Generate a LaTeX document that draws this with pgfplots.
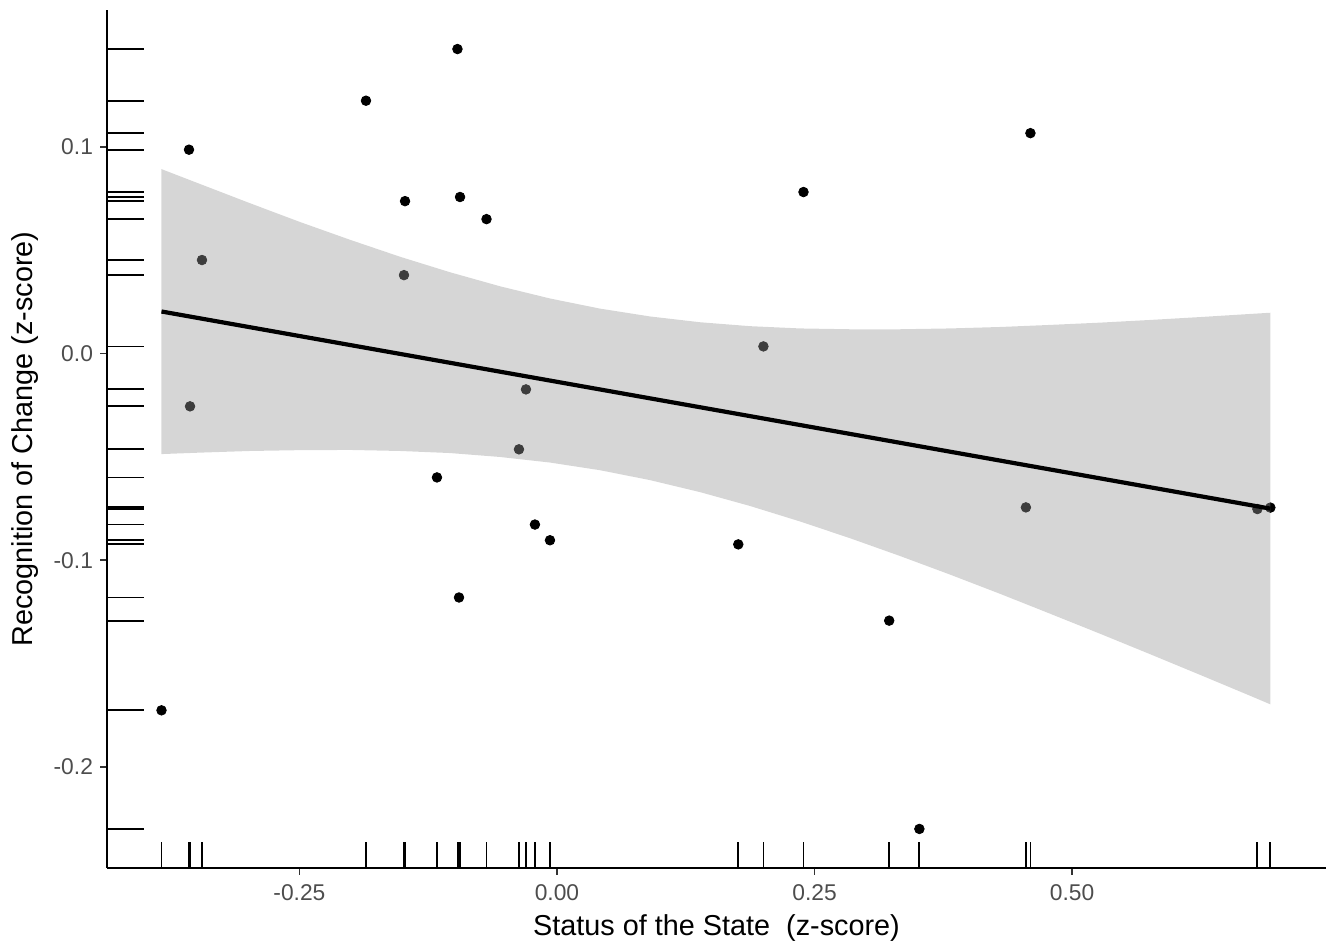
\documentclass[border=0pt]{standalone}
\usepackage{fontspec}
\setmainfont{Liberation Sans}
\usepackage{pgfplots}
\pgfplotsset{compat=1.18}
\usepackage{pgfplotstable}
\definecolor{grey60}{RGB}{153,153,153}
\definecolor{grey30}{RGB}{77,77,77}
\definecolor{grey20}{RGB}{51,51,51}
\pgfdeclareplotmark{rugx}{\pgfpathmoveto{\pgfpointorigin}\pgfpathlineto{\pgfpoint{0pt}{12.87pt}}\pgfusepathqstroke}
\pgfdeclareplotmark{rugy}{\pgfpathmoveto{\pgfpointorigin}\pgfpathlineto{\pgfpoint{18.29pt}{0pt}}\pgfusepathqstroke}

\pgfplotstableread{
x y
-0.3839 -0.1726
-0.3572 0.0987
-0.3446 0.0453
-0.3562 -0.0255
-0.1854 0.1224
-0.1475 0.0738
-0.1485 0.0380
-0.0966 0.1474
-0.0941 0.0758
-0.0684 0.0651
-0.1165 -0.0599
-0.0951 -0.1180
-0.0301 -0.0173
-0.0369 -0.0463
-0.0214 -0.0827
-0.0068 -0.0903
0.2004 0.0035
0.2393 0.0782
0.1760 -0.0923
0.3225 -0.1292
0.3518 -0.2300
0.4596 0.1067
0.4552 -0.0744
0.6799 -0.0752
0.6925 -0.0745
}\pts

\pgfplotstableread{
x y
-0.3839 0.0893
-0.3465 0.0821
-0.2980 0.0728
-0.2494 0.0637
-0.2009 0.0551
-0.1524 0.0469
-0.1039 0.0394
-0.0553 0.0326
-0.0068 0.0267
0.0417 0.0218
0.0903 0.0180
0.1388 0.0152
0.1873 0.0133
0.2359 0.0122
0.2844 0.0118
0.3329 0.0118
0.3815 0.0122
0.4300 0.0129
0.4785 0.0139
0.5270 0.0150
0.5756 0.0163
0.6241 0.0177
0.6726 0.0192
0.6925 0.0198
0.6925 -0.1697
0.6726 -0.1655
0.6241 -0.1554
0.5756 -0.1454
0.5270 -0.1355
0.4785 -0.1258
0.4300 -0.1162
0.3815 -0.1069
0.3329 -0.0979
0.2844 -0.0893
0.2359 -0.0812
0.1873 -0.0737
0.1388 -0.0670
0.0903 -0.0612
0.0417 -0.0564
-0.0068 -0.0527
-0.0553 -0.0500
-0.1039 -0.0481
-0.1524 -0.0471
-0.2009 -0.0466
-0.2494 -0.0467
-0.2980 -0.0471
-0.3465 -0.0479
-0.3839 -0.0486
}\band

\pgfplotstableread{
x y
-0.3839 0.0204
0.6925 -0.0750
}\fit

\begin{document}
\begin{tikzpicture}
\useasboundingbox (0,0) rectangle (664pt,473.5pt);
\begin{axis}[
  at={(53.5pt,39.5pt)}, anchor=south west,
  scale only axis, width=609.5pt, height=429pt,
  xmin=-0.4368, xmax=0.7465, ymin=-0.2489, ymax=0.1663,
  axis x line*=bottom, axis y line*=left,
  axis line style={-, line width=1pt, black},
  xtick={-0.25,0,0.25,0.5}, xticklabels={-0.25,0.00,0.25,0.50},
  ytick={-0.2,-0.1,0,0.1}, yticklabels={-0.2,-0.1,0.0,0.1},
  minor tick num=0,
  tick align=outside, major tick length=3.5pt,
  every tick/.style={grey20, line width=0.8pt},
  ticklabel style={font=\fontsize{11.4}{13}\selectfont, text=grey30},
  xticklabel style={yshift=-1.5pt},
  xlabel={Status of the State~ (z-score)},
  ylabel={Recognition of Change (z-score)},
  label style={font=\fontsize{14.4}{17}\selectfont, text=black},
  xlabel style={at={([yshift=-30pt]axis description cs:0.5,0)}, anchor=center},
  ylabel style={at={([xshift=-41pt]axis description cs:0,0.5)}, anchor=center},
  clip=false, clip marker paths=true,
]
\addplot[only marks, mark=*, mark size=2.4pt, black] table[x=x,y=y]{\pts};
\addplot[fill=grey60, fill opacity=0.4, draw=none] table[x=x,y=y]{\band};
\addplot[black, line width=2.1pt] table[x=x,y=y]{\fit};
\addplot[only marks, mark=rugx, mark options={line width=0.9pt}, black] table[x=x, y expr=-0.2489]{\pts};
\addplot[only marks, mark=rugy, mark options={line width=0.9pt}, black] table[x expr=-0.4368, y=y]{\pts};
\end{axis}
\end{tikzpicture}
\end{document}
